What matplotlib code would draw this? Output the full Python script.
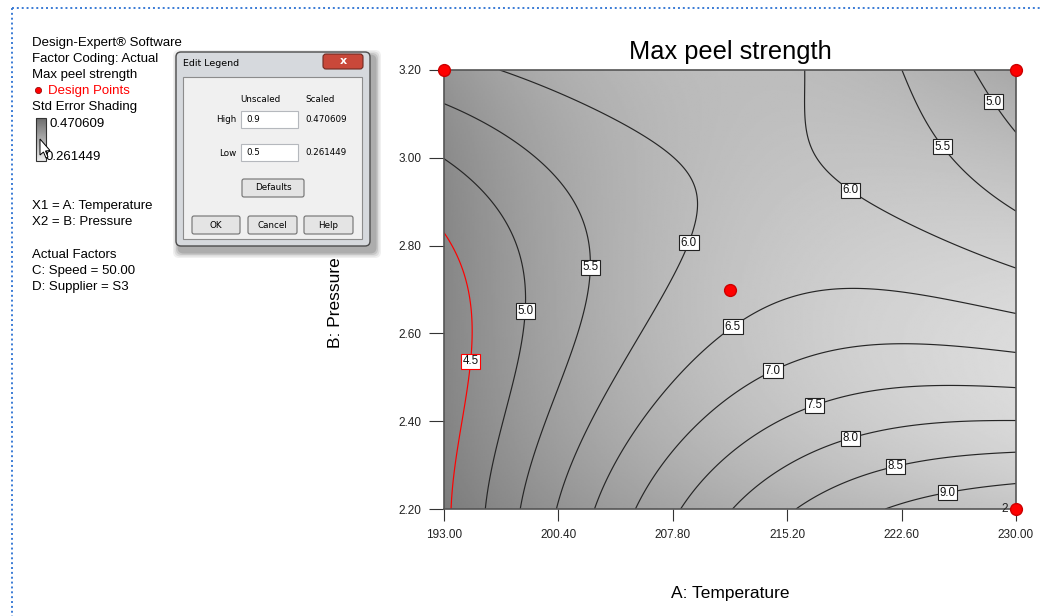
import numpy as np
import matplotlib.pyplot as plt
from matplotlib.patches import Rectangle, FancyBboxPatch, Polygon
from matplotlib.lines import Line2D

plt.rcParams['font.family'] = ['Liberation Sans', 'DejaVu Sans']

temp_ticks = [193.00, 200.40, 207.80, 215.20, 222.60, 230.00]
press_ticks = [2.20, 2.40, 2.60, 2.80, 3.00, 3.20]
levels = [4.5, 5.0, 5.5, 6.0, 6.5, 7.0, 7.5, 8.0, 8.5, 9.0]

# peel strength readings: (temperature, pressure, value)
resp_temp = [193, 193, 193, 193, 193, 193,
             193.5, 195.65, 197.8, 200.2, 202.7, 205.5, 208.5, 212.3, 216.0, 221.1, 230,
             230, 230, 230, 230, 230, 230, 230, 230, 230,
             195.5, 206, 216.8, 223.1, 227.7,
             195.1, 194.7, 194.9, 198.3, 197.3, 198.4, 197.5,
             202.25, 201.6, 199.7, 202.25, 200.7,
             208.9, 209.9, 209.1, 205.0, 207.5, 203.3,
             215.4, 215.8, 219.3, 224.4,
             225.4, 227.3, 228.6,
             211.9, 214.7, 221.2, 206.3,
             214.5, 219.1, 224.4, 209.8,
             217.1, 218.0, 222.3, 226.6, 212.1,
             219.3, 220.4, 224.4,
             222.2, 223.0, 226.6,
             225.5, 225.3,
             211.5, 211.0, 207.0, 215.0, 214.5]
resp_press = [2.2, 2.5, 2.82, 3.0, 3.127, 3.2,
              2.2, 2.2, 2.2, 2.2, 2.2, 2.2, 2.2, 2.2, 2.2, 2.2, 2.2,
              3.2, 3.045, 2.877, 2.756, 2.649, 2.558, 2.476, 2.398, 2.33,
              3.2, 3.2, 3.2, 3.2, 3.2,
              2.535, 2.676, 2.448, 2.651, 2.78, 2.676, 2.448,
              2.751, 2.904, 2.972, 2.676, 2.448,
              2.806, 2.92, 2.972, 3.063, 2.676, 2.448,
              3.047, 2.995, 2.927, 2.858,
              3.029, 2.95, 3.13,
              2.605, 2.658, 2.699, 2.448,
              2.501, 2.555, 2.574, 2.448,
              2.426, 2.425, 2.466, 2.478, 2.448,
              2.359, 2.357, 2.387,
              2.303, 2.305, 2.323,
              2.257, 2.243,
              2.7, 3.05, 3.15, 3.15, 3.10]
resp_val = [4.42, 4.33, 4.5, 5.0, 5.5, 5.8,
            4.5, 5.0, 5.5, 6.0, 6.5, 7.0, 7.5, 8.0, 8.5, 9.0, 9.35,
            4.6, 5.0, 5.5, 6.0, 6.5, 7.0, 7.5, 8.0, 8.5,
            6.0, 6.25, 6.0, 5.5, 5.0,
            4.5, 4.5, 4.5, 5.0, 5.0, 5.0, 5.0,
            5.5, 5.5, 5.5, 5.5, 5.5,
            6.0, 6.0, 6.0, 6.0, 6.0, 6.0,
            6.0, 6.0, 6.0, 6.0,
            5.5, 5.5, 5.0,
            6.5, 6.5, 6.5, 6.5,
            7.0, 7.0, 7.0, 7.0,
            7.5, 7.5, 7.5, 7.5, 7.5,
            8.0, 8.0, 8.0,
            8.5, 8.5, 8.5,
            9.0, 9.0,
            6.3, 6.2, 6.2, 6.05, 5.95]

# std error shading readings (temperature, pressure, grey level 0-255)
se_temp = [193, 193, 193, 202, 206, 211.5, 220, 230, 230, 230, 225, 220, 211.5, 202,
           211.5, 220, 200, 215, 197, 205]
se_press = [3.2, 2.7, 2.2, 3.2, 3.0, 3.2, 3.2, 3.2, 2.7, 2.2, 2.45, 2.6, 2.7, 2.5,
            2.2, 2.2, 2.9, 2.9, 2.7, 2.4]
se_grey = [152, 122, 130, 175, 192, 180, 182, 175, 200, 195, 230, 212, 188, 170,
           158, 188, 178, 196, 150, 175]

design_temp = [193.0, 230.0, 230.0, 211.5]
design_press = [3.2, 3.2, 2.2, 2.7]

# label spots for the contour values
label_pos = [(195.13, 2.535), (198.24, 2.651), (202.25, 2.751), (208.91, 2.806),
             (219.32, 2.927), (225.40, 3.029), (228.58, 3.129), (211.89, 2.605),
             (214.47, 2.501), (217.06, 2.426), (219.32, 2.359), (222.17, 2.303),
             (225.47, 2.257)]


def terms(a, b, order):
    x = (np.asarray(a, float) - 211.5) / 18.5
    y = (np.asarray(b, float) - 2.7) / 0.5
    return np.stack([x**i * y**j for i in range(order + 1)
                     for j in range(order + 1 - i)], axis=-1)


def fit_surface(a, b, v, order, ga, gb):
    coef, *_ = np.linalg.lstsq(terms(a, b, order), np.asarray(v, float), rcond=None)
    return terms(ga, gb, order) @ coef


ga, gb = np.meshgrid(np.linspace(193, 230, 300), np.linspace(2.2, 3.2, 300))
peel = fit_surface(resp_temp, resp_press, resp_val, 4, ga, gb)
shade = fit_surface(se_temp, se_press, se_grey, 3, ga, gb)

fig = plt.figure(figsize=(10.42, 6.16), dpi=100)

# pixel-space layer for the side panel and dialog
ov = fig.add_axes([0, 0, 1, 1])
ov.set_xlim(0, 1042)
ov.set_ylim(616, 0)
ov.axis('off')

blue = '#3a7bd5'
ov.add_line(Line2D([12, 12], [8, 616], color=blue, lw=1.4, ls=(0, (1, 1.5))))
ov.add_line(Line2D([12, 1042], [8, 8], color=blue, lw=1.4, ls=(0, (1, 1.5))))

fs = 9.5
ov.text(32, 43, 'Design-Expert® Software', fontsize=fs, va='center')
ov.text(32, 59, 'Factor Coding: Actual', fontsize=fs, va='center')
ov.text(32, 75, 'Max peel strength', fontsize=fs, va='center')
ov.plot([38], [90], 'o', color='red', ms=4.5, mec='#880000', mew=0.5)
ov.text(48, 91, 'Design Points', fontsize=fs, va='center', color='red')
ov.text(32, 107, 'Std Error Shading', fontsize=fs, va='center')
ov.imshow(np.linspace(110, 235, 50).reshape(-1, 1), extent=(36, 46, 161, 118),
          cmap='gray', vmin=0, vmax=255, aspect='auto', zorder=2)
ov.add_patch(Rectangle((36, 118), 10, 43, fill=False, ec='#333333', lw=0.8, zorder=3))
ov.text(49, 124, '0.470609', fontsize=fs, va='center')
ov.text(45, 157, '0.261449', fontsize=fs, va='center')
ov.add_patch(Polygon([(40, 139), (40, 155), (43.5, 152), (46, 158), (48, 157),
                      (45.5, 151), (50, 150.5)], closed=True, fc='white', ec='black',
                     lw=0.7, zorder=4))
ov.text(32, 206, 'X1 = A: Temperature', fontsize=fs, va='center')
ov.text(32, 222, 'X2 = B: Pressure', fontsize=fs, va='center')
ov.text(32, 255, 'Actual Factors', fontsize=fs, va='center')
ov.text(32, 271, 'C: Speed = 50.00', fontsize=fs, va='center')
ov.text(32, 287, 'D: Supplier = S3', fontsize=fs, va='center')

# "Edit Legend" dialog window
for k, al in enumerate([0.06, 0.08, 0.1, 0.12]):
    d = 7 - 1.5 * k
    ov.add_patch(FancyBboxPatch((176 - d + 4, 52 - d + 5), 194 + 2 * d, 194 + 2 * d,
                                boxstyle='round,pad=0,rounding_size=6', fc='black',
                                ec='none', alpha=al, zorder=4))
ov.add_patch(FancyBboxPatch((176, 52), 194, 194, boxstyle='round,pad=0,rounding_size=5',
                            fc='#d6d9dd', ec='#4d4d4d', lw=1, zorder=5))
ov.add_patch(FancyBboxPatch((323, 54), 40, 15, boxstyle='round,pad=0,rounding_size=3',
                            fc='#c9483a', ec='#6e2a22', lw=0.8, zorder=6))
ov.text(343, 61.5, 'x', fontsize=8, fontweight='bold', color='white', ha='center',
        va='center', family='DejaVu Sans', zorder=7)
ov.text(183, 64, 'Edit Legend', fontsize=6.8, va='center', family='DejaVu Sans', zorder=6)
ov.add_patch(Rectangle((183, 77), 179, 162, fc='#f0f0f0', ec='#8c8c8c', lw=0.8, zorder=6))

dfs = 6.3
dlg = dict(fontsize=dfs, family='DejaVu Sans', zorder=8, va='center')
ov.text(260, 99, 'Unscaled', ha='center', **dlg)
ov.text(305, 99, 'Scaled', ha='left', **dlg)
ov.text(236, 120, 'High', ha='right', **dlg)
ov.text(236, 153, 'Low', ha='right', **dlg)
for y0, txt, sc in [(111, '0.9', '0.470609'), (144, '0.5', '0.261449')]:
    ov.add_patch(Rectangle((241, y0), 57, 17, fc='white', ec='#b5b8bd', lw=0.8, zorder=7))
    ov.text(246, y0 + 8.5, txt, ha='left', **dlg)
    ov.text(305, y0 + 8.5, sc, ha='left', **dlg)
for x0, y0, w, txt in [(242, 179, 62, 'Defaults'), (192, 216, 48, 'OK'),
                       (248, 216, 49, 'Cancel'), (304, 216, 49, 'Help')]:
    ov.add_patch(FancyBboxPatch((x0, y0), w, 18, boxstyle='round,pad=0,rounding_size=2',
                                fc='#e4e4e4', ec='#707070', lw=0.8, zorder=7))
    ov.text(x0 + w / 2, y0 + 9, txt, ha='center', **dlg)

# contour plot
ax = fig.add_axes([444 / 1042, 1 - 509 / 616, 572 / 1042, 439 / 616])
ax.imshow(shade, extent=(193, 230, 2.2, 3.2), origin='lower', aspect='auto',
          cmap='gray', vmin=0, vmax=255, interpolation='bilinear')
line_colors = ['red' if lv == 4.5 else '#262626' for lv in levels]
cs = ax.contour(ga, gb, peel, levels=levels, colors=line_colors, linewidths=0.85)
texts = ax.clabel(cs, manual=label_pos, inline=False, fmt='%.1f', fontsize=8.3,
                  colors='#111111')
for t in texts:
    t.set_rotation(0)
    edge = 'red' if t.get_text() == '4.5' else '#222222'
    t.set_bbox(dict(boxstyle='square,pad=0.14', fc='white', ec=edge, lw=0.8))

ax.plot(design_temp, design_press, 'o', color='red', ms=8.5, mec='#cc0000',
        clip_on=False, zorder=6)
ax.text(229.45, 2.2, '2', fontsize=8.5, ha='right', va='center', color='#222222', zorder=6)

ax.set_xlim(193, 230)
ax.set_ylim(2.2, 3.2)
ax.set_xticks(temp_ticks)
ax.set_xticklabels([f'{v:.2f}' for v in temp_ticks])
ax.set_yticks(press_ticks)
ax.set_yticklabels([f'{v:.2f}' for v in press_ticks])
ax.tick_params(axis='x', direction='out', length=8.5, width=0.8, color='#333333',
               labelsize=8.5, labelcolor='#222222', pad=6)
ax.tick_params(axis='y', direction='out', length=10.5, width=0.8, color='#333333',
               labelsize=8.5, labelcolor='#222222', pad=6)
for sp in ax.spines.values():
    sp.set_color('#555555')
    sp.set_linewidth(1.2)

ax.set_title('Max peel strength', fontsize=18.3, pad=8)
ax.set_xlabel('A: Temperature', fontsize=12.5)
ax.set_ylabel('B: Pressure', fontsize=12.5)
ax.xaxis.set_label_coords(0.5, -(586 - 509) / 439)
ax.yaxis.set_label_coords(-(444 - 343) / 572, (509 - 303) / 439)

fig.savefig('out.png', dpi=100)
